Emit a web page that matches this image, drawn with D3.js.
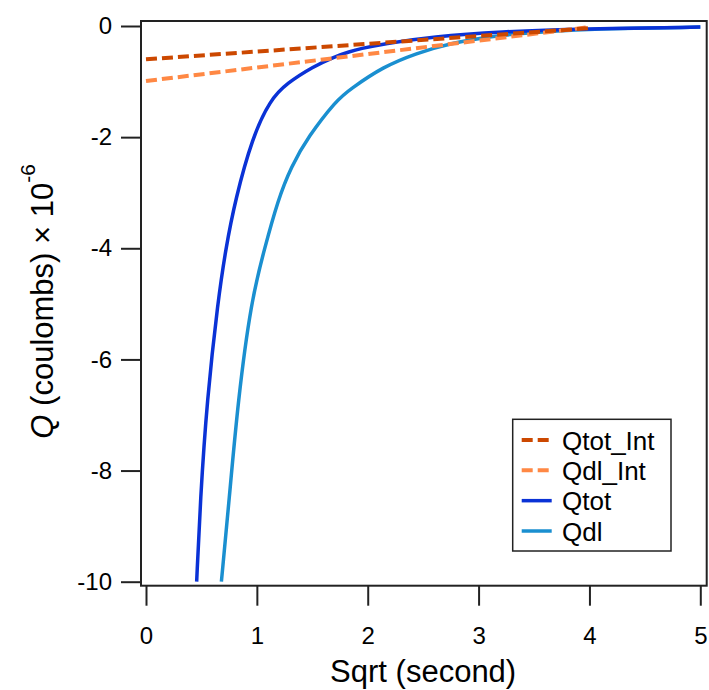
<!DOCTYPE html>
<html>
<head>
<meta charset="utf-8">
<script src="https://cdn.jsdelivr.net/npm/d3@7"></script>
<style>
  body { margin: 0; background: #fff; }
  svg { display: block; font-family: "Liberation Sans", Arial, Helvetica, sans-serif; }
</style>
</head>
<body>
<script>
// values (x = sqrt(second), y = Q in 1e-6 coulombs)
const qtotX = [0.457, 0.49, 0.55, 0.65, 0.72, 0.805, 0.96, 1.12, 1.27, 1.51, 1.69, 1.84, 1.93, 2.14, 2.59, 3.19, 3.94, 5.0];
const qtotY = [-10, -8.53, -6.73, -4.93, -4.0, -3.13, -2.0, -1.33, -1.03, -0.73, -0.56, -0.46, -0.41, -0.32, -0.19, -0.10, -0.05, -0.02];

const qdlX = [0.68, 0.75, 0.83, 0.95, 1.07, 1.19, 1.31, 1.46, 1.72, 1.84, 2.14, 2.44, 2.74, 3.19, 3.64, 4.0, 5.0];
const qdlY = [-10, -8.53, -6.73, -4.93, -4.0, -3.13, -2.53, -2.0, -1.33, -1.14, -0.73, -0.49, -0.31, -0.16, -0.10, -0.05, -0.02];

const qtotIntX = [0, 4.0];
const qtotIntY = [-0.60, -0.04];
const qdlIntX = [0, 4.0];
const qdlIntY = [-0.99, -0.02];

const xTicks = [0, 1, 2, 3, 4, 5];
const yTicks = [0, -2, -4, -6, -8, -10];

const seriesNames = ['Qtot_Int', 'Qdl_Int', 'Qtot', 'Qdl'];
const seriesColors = ['#cc4800', '#ff8844', '#0a32d6', '#1a8fd0'];
const seriesDashed = [true, true, false, false];

const width = 709;
const height = 690;

const x = d3.scaleLinear().domain([0, 5]).range([146, 700.3]);
const y = d3.scaleLinear().domain([-10, 0]).range([581.7, 26]);

// frame sits a little outside the data range, Igor style
const frame = { left: 141, right: 706.7, top: 21, bottom: 585.7 };

const svg = d3.select('body')
  .append('svg')
  .attr('width', width)
  .attr('height', height);

svg.append('defs').append('clipPath')
  .attr('id', 'plotclip')
  .append('rect')
  .attr('x', frame.left)
  .attr('y', frame.top)
  .attr('width', frame.right - frame.left)
  .attr('height', frame.bottom - frame.top);

const zip = (xs, ys) => xs.map((v, i) => [v, ys[i]]);
const seriesData = [
  zip(qtotIntX, qtotIntY),
  zip(qdlIntX, qdlIntY),
  zip(qtotX, qtotY),
  zip(qdlX, qdlY)
];

const line = d3.line()
  .x(d => x(d[0]))
  .y(d => y(d[1]))
  .curve(d3.curveBasis);

const plot = svg.append('g').attr('clip-path', 'url(#plotclip)');

// solid curves first, dashed on top
[3, 2, 1, 0].forEach(i => {
  plot.append('path')
    .datum(seriesData[i])
    .attr('fill', 'none')
    .attr('stroke', seriesColors[i])
    .attr('stroke-width', seriesDashed[i] ? 4 : 3.5)
    .attr('stroke-dasharray', seriesDashed[i] ? '11,5' : null)
    .attr('d', line);
});

// frame
svg.append('rect')
  .attr('x', frame.left)
  .attr('y', frame.top)
  .attr('width', frame.right - frame.left)
  .attr('height', frame.bottom - frame.top)
  .attr('fill', 'none')
  .attr('stroke', '#222')
  .attr('stroke-width', 2);

// y axis
const yAxis = d3.axisLeft(y)
  .tickValues(yTicks)
  .tickSize(20)
  .tickPadding(9)
  .tickFormat(d => String(d));

const yGuide = svg.append('g')
  .attr('transform', `translate(${frame.left},0)`)
  .call(yAxis);

// x axis
const xAxis = d3.axisBottom(x)
  .tickValues(xTicks)
  .tickSize(20)
  .tickPadding(21)
  .tickFormat(d => String(d));

const xGuide = svg.append('g')
  .attr('transform', `translate(0,${frame.bottom})`)
  .call(xAxis);

[yGuide, xGuide].forEach(g => {
  g.select('.domain').remove();
  g.selectAll('.tick line').attr('stroke', '#222').attr('stroke-width', 2);
  g.selectAll('.tick text')
    .attr('fill', '#000')
    .style('font-size', '24px')
    .style('font-family', '"Liberation Sans", Arial, Helvetica, sans-serif');
});

// axis titles
svg.append('text')
  .attr('x', x(2.5))
  .attr('y', 682)
  .attr('text-anchor', 'middle')
  .style('font-size', '31px')
  .text('Sqrt (second)');

const yTitle = svg.append('text')
  .attr('transform', `translate(53,${(frame.top + frame.bottom) / 2 - 2}) rotate(-90)`)
  .attr('text-anchor', 'middle')
  .style('font-size', '31px');
yTitle.append('tspan').style('font-style', 'italic').text('Q');
yTitle.append('tspan').text(' (coulombs) × 10');
yTitle.append('tspan')
  .attr('dy', -18)
  .style('font-size', '21px')
  .text('-6');

// legend
const legend = svg.append('g');
legend.append('rect')
  .attr('x', 512.7)
  .attr('y', 419.3)
  .attr('width', 158.3)
  .attr('height', 131.7)
  .attr('fill', '#fff')
  .attr('stroke', '#222')
  .attr('stroke-width', 1.5);

const rowY = d3.scalePoint().domain(seriesNames).range([440, 531]);

seriesNames.forEach((name, i) => {
  legend.append('line')
    .attr('x1', 521.7)
    .attr('x2', 551.7)
    .attr('y1', rowY(name))
    .attr('y2', rowY(name))
    .attr('stroke', seriesColors[i])
    .attr('stroke-width', seriesDashed[i] ? 4 : 3.5)
    .attr('stroke-dasharray', seriesDashed[i] ? '11,5' : null);
  legend.append('text')
    .attr('x', 562)
    .attr('y', rowY(name) + 9.5)
    .style('font-size', '26px')
    .text(name);
});
</script>
</body>
</html>
